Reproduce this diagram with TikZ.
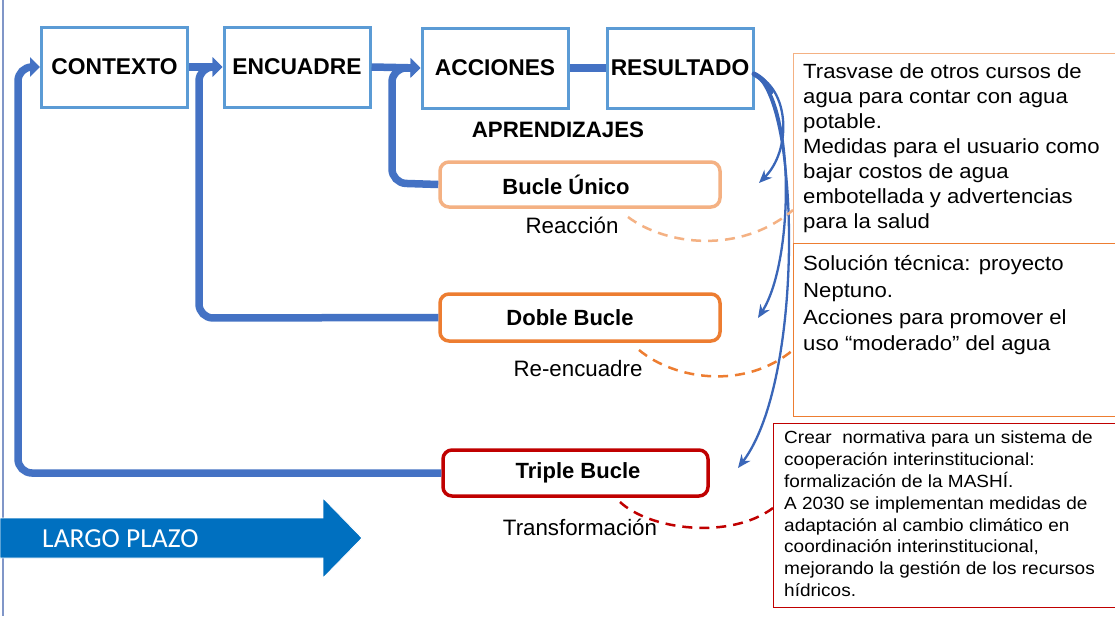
\documentclass[tikz,border=0pt]{standalone}
\usepackage{fontspec}
\setmainfont{Liberation Sans}
\newfontfamily\widefont[FakeStretch=1.08]{Liberation Sans}
\newfontfamily\calfont{Carlito}
\usetikzlibrary{arrows.meta,calc}
\definecolor{boxblue}{HTML}{5B9BD5}
\definecolor{loopblue}{HTML}{4472C4}
\definecolor{curveblue}{HTML}{3A66B8}
\definecolor{lorange}{HTML}{F4B183}
\definecolor{dorange}{HTML}{ED7D31}
\definecolor{dred}{HTML}{C00000}
\definecolor{bigblue}{HTML}{0070C0}
\definecolor{edgeline}{HTML}{8096C8}
\tikzset{
  topbox/.style={draw=boxblue, line width=3pt, minimum width=146pt, minimum height=80pt, inner sep=0pt,
    font=\fontsize{22.8}{26}\selectfont\bfseries},
  loopbox/.style={rounded corners=9pt, line width=3.5pt, minimum height=45pt, inner sep=0pt,
    font=\fontsize{22}{26}\selectfont\bfseries},
  looparrow/.style={draw=loopblue, line width=7.5pt, rounded corners=14pt,
    -{Triangle[width=19pt,length=10pt]}},
  flowline/.style={draw=loopblue, line width=7.5pt},
  curvearrow/.style={draw=curveblue, line width=2.3pt, -{Stealth[width=11pt,length=13pt]}},
  dashlink/.style={line width=2.5pt, dash pattern=on 10pt off 7pt},
  lbl/.style={font=\fontsize{22.3}{26}\selectfont, inner sep=0pt},
  infobox/.style={draw, line width=1.3pt, inner sep=0pt, anchor=north west},
  infotext/.style={anchor=north west, inner sep=0pt, align=left}
}
\begin{document}
\begin{tikzpicture}[x=1pt,y=-1pt]
\useasboundingbox (0,0) rectangle (1115,616);
\fill[white] (0,0) rectangle (1115,616);
% left edge line
\draw[edgeline, line width=1.5pt] (3,0) -- (3,616);

% top boxes
\node[topbox] (ctx) at (114.5,67) {CONTEXTO};
\node[topbox] (enc) at (297,67) {ENCUADRE};
\node[topbox] (acc) at (495,68) {ACCIONES};
\node[topbox] (res) at (680,68) {RESULTADO};

\node[font=\fontsize{22.3}{26}\selectfont\bfseries, inner sep=0pt] (apr) at (558,130) {APRENDIZAJES};

% loop boxes
\node[loopbox, draw=lorange, minimum width=280pt] (bu) at (580,184.5) {Bucle Único\hspace*{28pt}};
\node[loopbox, draw=dorange, minimum width=280pt, minimum height=47pt] (db) at (580,317.5) {Doble Bucle\hspace*{20pt}};
\node[loopbox, draw=dred, minimum width=265pt, minimum height=46pt] (tb) at (575.5,473) {\hspace*{5pt}Triple Bucle};

% labels
\node[lbl] (reac) at (572,225) {Reacción};
\node[lbl] (reenc) at (578,369) {Re-encuadre};
\node[lbl] (transf) at (580,527) {Transformación};

% forward connectors
\draw[flowline, -{Triangle[width=19pt,length=10pt]}] (ctx.east) -- (enc.west);
\draw[flowline, -{Triangle[width=19pt,length=10pt]}] (enc.east) -- (acc.west);
\draw[flowline] (acc.east) -- (res.west);

% feedback loops
\coordinate (tbl) at (18,473);
\coordinate (tbt) at (18,67);
\draw[looparrow] (tb.west) -- (tbl) -- (tbt) -- (ctx.west);
\coordinate (dbl) at (199,318);
\coordinate (dbt) at (199,67);
\draw[looparrow] (db.west) -- (dbl) -- (dbt) -- (enc.west);
\coordinate (bul) at (392,183);
\coordinate (but) at (392,68);
\draw[looparrow] (bu.west) -- (bul) -- (but) -- (acc.west);

% info boxes
\node[infobox, draw=lorange, minimum width=322pt, minimum height=190pt] (i1) at (793,53) {};
\node[infotext, font=\widefont\fontsize{20.5}{25}\selectfont] (t1) at (803,63.5) {Trasvase de otros cursos de\\agua para contar con agua\\potable.\\Medidas para el usuario como\\bajar costos de agua\\embotellada y advertencias\\para la salud};
\node[infobox, draw=dorange, minimum width=322pt, minimum height=173pt] (i2) at (793,243) {};
\node[infotext, font=\widefont\fontsize{20.5}{26.7}\selectfont] (t2) at (803,255.5) {Solución técnica: proyecto\\Neptuno.\\Acciones para promover el\\uso “moderado” del agua};
\node[infobox, draw=dred, minimum width=342pt, minimum height=184pt] (i3) at (773,423) {};
\node[infotext, font=\widefont\fontsize{17.6}{21.9}\selectfont] (t3) at (784,430.5) {Crear\ \ normativa para un sistema de\\cooperación interinstitucional:\\formalización de la MASHÍ.\\A 2030 se implementan medidas de\\adaptación al cambio climático en\\coordinación interinstitucional,\\mejorando la gestión de los recursos\\hídricos.};

% curved arrows from RESULTADO
\coordinate (rs) at (754,74);
\coordinate (e1) at (759,183);
\coordinate (e2) at (758,318);
\coordinate (e3) at (738,468);
\draw[curveblue, line width=5pt, line cap=round] (rs) .. controls (762,78) and (767,84) .. (771,92);
\draw[curvearrow] (rs) .. controls (790,88) and (792,150) .. (e1);
\draw[curvearrow] (rs) .. controls (795,95) and (795,260) .. (e2);
\draw[curvearrow] (rs) .. controls (800,100) and (805,380) .. (e3);

% dashed links
\coordinate (d1s) at (628,217);
\coordinate (d1e) at (i1.west |- 0,210);
\draw[dashlink, draw=lorange] (d1s) .. controls (665,245) and (740,255) .. (d1e);
\coordinate (d2s) at (639,350);
\coordinate (d2e) at (i2.west |- 0,350);
\draw[dashlink, draw=dorange] (d2s) .. controls (675,380) and (745,390) .. (d2e);
\coordinate (d3s) at (620,502);
\coordinate (d3e) at (i3.west |- 0,508);
\draw[dashlink, draw=dred] (d3s) .. controls (650,530) and (730,540) .. (d3e);

% long-term arrow
\path[fill=bigblue, draw=white, line width=0.8pt] (0,518) -- (323,518) -- (323,498) -- (362,538) -- (323,578) -- (323,558) -- (0,558) -- cycle;
\node[anchor=west, inner sep=0pt, text=white, font=\calfont\fontsize{27.5}{30}\selectfont] (lp) at (42,539) {LARGO PLAZO};
\end{tikzpicture}
\end{document}
